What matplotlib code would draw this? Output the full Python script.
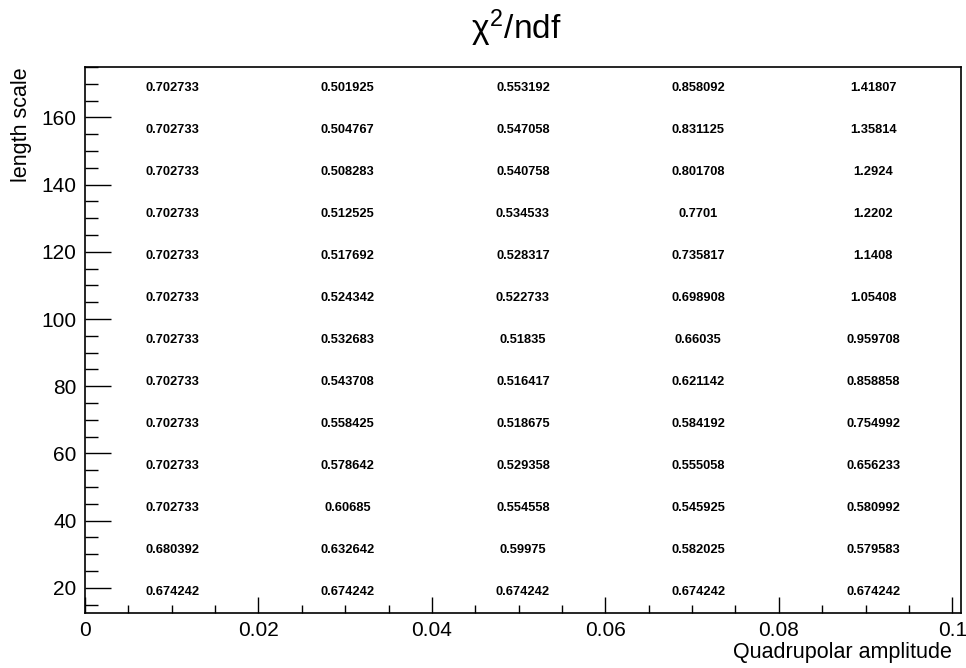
import numpy as np
import matplotlib
matplotlib.use('Agg')
import matplotlib.pyplot as plt
from matplotlib.ticker import MultipleLocator

plt.rcParams['font.family'] = ['Liberation Sans', 'DejaVu Sans']
plt.rcParams['mathtext.fontset'] = 'custom'
plt.rcParams['mathtext.rm'] = 'Liberation Sans'
plt.rcParams['mathtext.it'] = 'Liberation Sans'

# bin centres of the 2D histogram
amplitude = [0.0101, 0.0303, 0.0505, 0.0707, 0.0909]
length_scale = [18.75, 31.25, 43.75, 56.25, 68.75, 81.25, 93.75,
                106.25, 118.75, 131.25, 143.75, 156.25, 168.75]

# chi2/ndf per cell, rows follow length_scale (bottom to top)
chi2ndf = [
    [0.674242, 0.674242, 0.674242, 0.674242, 0.674242],
    [0.680392, 0.632642, 0.59975, 0.582025, 0.579583],
    [0.702733, 0.60685, 0.554558, 0.545925, 0.580992],
    [0.702733, 0.578642, 0.529358, 0.555058, 0.656233],
    [0.702733, 0.558425, 0.518675, 0.584192, 0.754992],
    [0.702733, 0.543708, 0.516417, 0.621142, 0.858858],
    [0.702733, 0.532683, 0.51835, 0.66035, 0.959708],
    [0.702733, 0.524342, 0.522733, 0.698908, 1.05408],
    [0.702733, 0.517692, 0.528317, 0.735817, 1.1408],
    [0.702733, 0.512525, 0.534533, 0.7701, 1.2202],
    [0.702733, 0.508283, 0.540758, 0.801708, 1.2924],
    [0.702733, 0.504767, 0.547058, 0.831125, 1.35814],
    [0.702733, 0.501925, 0.553192, 0.858092, 1.41807],
]

fig = plt.figure(figsize=(9.66, 6.68), dpi=100)
ax = fig.add_axes([0.088, 0.0823, 0.9068, 0.8174])

for j, y in enumerate(length_scale):
    for i, x in enumerate(amplitude):
        ax.text(x, y, '%g' % chi2ndf[j][i], ha='center', va='center',
                fontsize=9.3, fontweight='bold')

ax.set_xlim(0, 0.101)
ax.set_ylim(12.5, 175)

# ROOT-like axes: ticks inside, only bottom/left
ax.xaxis.set_major_locator(MultipleLocator(0.02))
ax.xaxis.set_minor_locator(MultipleLocator(0.005))
ax.yaxis.set_major_locator(MultipleLocator(20))
ax.yaxis.set_minor_locator(MultipleLocator(5))
ax.xaxis.set_major_formatter(plt.FuncFormatter(lambda v, p: '%g' % round(v, 4)))
ax.tick_params(axis='x', which='major', direction='in', length=11.5, width=1, labelsize=15, pad=6)
ax.tick_params(axis='x', which='minor', direction='in', length=5.8, width=1)
ax.tick_params(axis='y', which='major', direction='in', length=18.7, width=1, labelsize=15, pad=6)
ax.tick_params(axis='y', which='minor', direction='in', length=9.4, width=1)
for s in ax.spines.values():
    s.set_linewidth(1.2)

ax.set_xlabel('Quadrupolar amplitude', fontsize=15.5, ha='right')
ax.xaxis.set_label_coords(0.99, -0.053)
ax.set_ylabel('length scale', fontsize=15.5, ha='right')
ax.yaxis.set_label_coords(-0.061, 1.0)

fig.text(0.534, 0.958, r'$\chi^{2}$/ndf', ha='center', va='center', fontsize=24)

fig.savefig('out.png', dpi=100)
